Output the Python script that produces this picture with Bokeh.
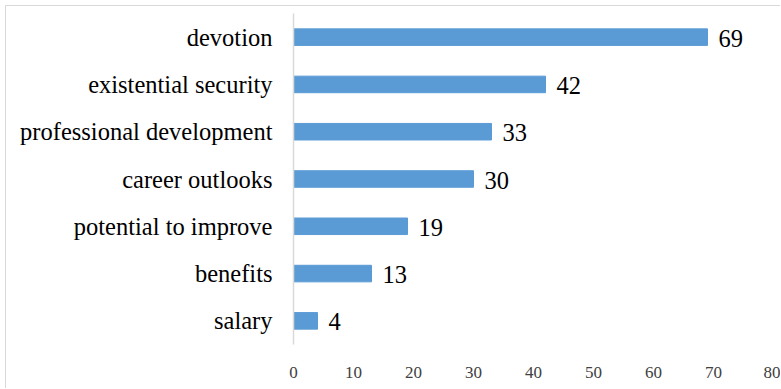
from bokeh.plotting import figure
from bokeh.models import ColumnDataSource, LabelSet, FixedTicker
from bokeh.embed import file_html
from bokeh.resources import INLINE

categories = ["devotion", "existential security", "professional development",
              "career outlooks", "potential to improve", "benefits", "salary"]
values = [69, 42, 33, 30, 19, 13, 4]
x_ticks = [0, 10, 20, 30, 40, 50, 60, 70, 80]

FONT = "Liberation Serif"
factors = list(reversed(categories))

src = ColumnDataSource(dict(cat=categories, val=values, lab=[str(v) for v in values]))

# outer frame offset (CSS border starts at x=5, y=5)
OFF = 6
p = figure(width=781 - OFF, height=389 - OFF, y_range=factors, x_range=(0, 80),
           output_backend="svg", toolbar_location=None,
           min_border_left=293 - OFF, min_border_right=8, min_border_top=13 - OFF,
           min_border_bottom=45)
p.styles = {"margin-left": "5px", "margin-top": "5px",
            "border-left": "1px solid #d9d9d9", "border-top": "1px solid #d9d9d9"}

p.hbar(y="cat", right="val", left=0, height=0.35, source=src,
       fill_color="#5b9bd5", line_color="#5b9bd5")

labels = LabelSet(x="val", y="cat", text="lab", source=src, x_offset=11, y_offset=-1,
                  text_font=FONT, text_font_size="24.5px", text_baseline="middle",
                  text_color="#000000")
p.add_layout(labels)

p.outline_line_color = None
p.xgrid.grid_line_color = None
p.ygrid.grid_line_color = None

p.xaxis.ticker = FixedTicker(ticks=x_ticks)
p.xaxis.axis_line_color = None
p.xaxis.major_tick_line_color = None
p.xaxis.minor_tick_line_color = None
p.xaxis.major_tick_out = 0
p.xaxis.major_label_standoff = 22
p.xaxis.major_label_text_font = FONT
p.xaxis.major_label_text_font_size = "17px"
p.xaxis.major_label_text_color = "#404040"

p.yaxis.axis_line_color = "#d9d9d9"
p.yaxis.axis_line_width = 1.5
p.yaxis.major_tick_line_color = None
p.yaxis.major_tick_out = 0
p.yaxis.major_label_standoff = 21
p.yaxis.major_label_text_font = FONT
p.yaxis.major_label_text_font_size = "24.5px"
p.yaxis.major_label_text_color = "#000000"

open("out.html", "w").write(file_html(p, INLINE))
